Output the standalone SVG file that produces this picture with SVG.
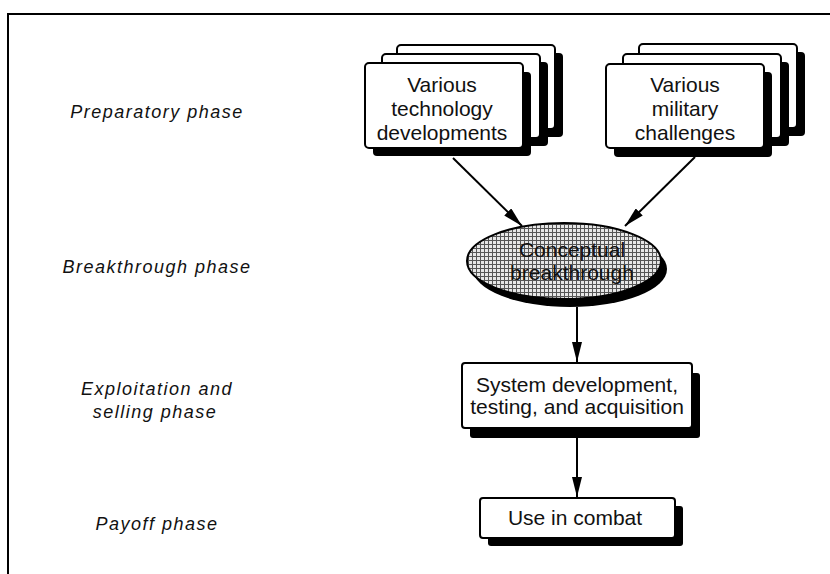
<svg xmlns="http://www.w3.org/2000/svg" width="830" height="574" viewBox="0 0 830 574">
<defs>
<style>
.card{fill:#fff;stroke:#000;stroke-width:2}
.shadow{fill:#000}
.txt{font-family:"Liberation Sans",Arial,sans-serif;font-size:21px;fill:#111;text-anchor:middle}
.lbl{font-family:"Liberation Sans",Arial,sans-serif;font-size:18px;font-style:italic;fill:#111;text-anchor:middle;letter-spacing:1.5px}
.conn{stroke:#000;stroke-width:2;fill:none}
</style>
<marker id="arr" viewBox="0 0 20 10" refX="20" refY="5" markerWidth="20" markerHeight="10" markerUnits="userSpaceOnUse" orient="auto">
<path d="M0,0 L20,5 L0,10 Z" fill="#000"/>
</marker>
<pattern id="hatch" width="4" height="4" patternUnits="userSpaceOnUse">
<rect width="4" height="4" fill="#e6e6e6"/>
<path d="M0,0.5 H4 M0.5,0 V4" stroke="#555" stroke-width="1"/>
</pattern>
</defs>
<rect width="830" height="574" fill="#fff"/>
<g id="frame">
<path d="M8,574 V14 H830" stroke="#000" stroke-width="2" fill="none"/>
</g>
<g id="labels">
<text class="lbl" x="157" y="118">Preparatory phase</text>
<text class="lbl" x="157" y="273">Breakthrough phase</text>
<text class="lbl" x="157" y="395">Exploitation and</text>
<text class="lbl" x="155" y="418">selling phase</text>
<text class="lbl" x="157" y="530">Payoff phase</text>
</g>
<g id="tech">
<rect class="shadow" x="405" y="53" width="158" height="84" rx="4"/>
<rect class="card" x="397" y="45" width="158" height="84" rx="4"/>
<rect class="shadow" x="390" y="62" width="158" height="84" rx="4"/>
<rect class="card" x="382" y="54" width="158" height="84" rx="4"/>
<rect class="shadow" x="373" y="72" width="158" height="84" rx="4"/>
<rect class="card" x="365" y="63" width="158" height="85" rx="4"/>
<text class="txt" x="442" y="92">Various</text>
<text class="txt" x="442" y="116">technology</text>
<text class="txt" x="442" y="140">developments</text>
</g>
<g id="military">
<rect class="shadow" x="647" y="52" width="158" height="84" rx="4"/>
<rect class="card" x="639" y="44" width="158" height="84" rx="4"/>
<rect class="shadow" x="631" y="62" width="158" height="84" rx="4"/>
<rect class="card" x="623" y="54" width="158" height="84" rx="4"/>
<rect class="shadow" x="614" y="72" width="158" height="85" rx="4"/>
<rect class="card" x="606" y="64" width="158" height="84" rx="4"/>
<text class="txt" x="685" y="92">Various</text>
<text class="txt" x="685" y="116">military</text>
<text class="txt" x="685" y="140">challenges</text>
</g>
<g id="breakthrough">
<ellipse cx="570" cy="269" rx="97" ry="38" fill="#000"/>
<ellipse cx="564" cy="261" rx="97" ry="38" fill="url(#hatch)" stroke="#000" stroke-width="2"/>
<text class="txt" x="572" y="257">Conceptual</text>
<text class="txt" x="572" y="280">breakthrough</text>
</g>
<g id="system">
<rect class="shadow" x="470" y="373" width="230" height="65" rx="3"/>
<rect class="card" x="462" y="363" width="230" height="65" rx="3"/>
<text class="txt" x="577" y="392">System development,</text>
<text class="txt" x="577" y="414">testing, and acquisition</text>
</g>
<g id="combat">
<rect class="shadow" x="488" y="506" width="195" height="40" rx="3"/>
<rect class="card" x="480" y="498" width="195" height="40" rx="3"/>
<text class="txt" x="575" y="525">Use in combat</text>
</g>
<g id="connectors">
<line class="conn" x1="453" y1="158" x2="522" y2="226" marker-end="url(#arr)"/>
<line class="conn" x1="695" y1="157" x2="625" y2="226" marker-end="url(#arr)"/>
<line class="conn" x1="577" y1="307" x2="577" y2="362" marker-end="url(#arr)"/>
<line class="conn" x1="577" y1="438" x2="577" y2="497" marker-end="url(#arr)"/>
</g>
</svg>
